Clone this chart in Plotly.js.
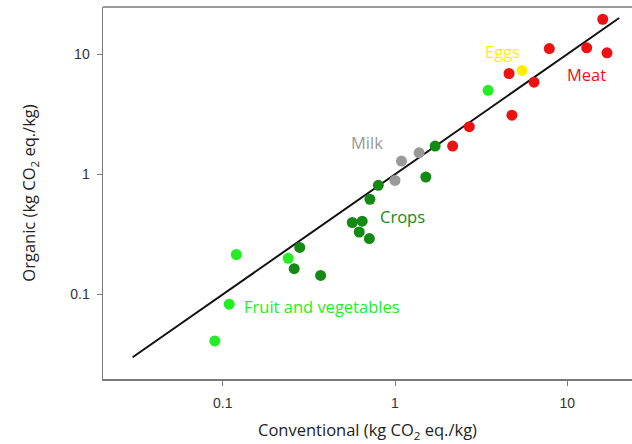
<!DOCTYPE html>
<html>
<head>
<meta charset="utf-8">
<script src="https://cdn.plot.ly/plotly-3.0.1.min.js"></script>
<style>
  html, body { margin: 0; padding: 0; background: #ffffff; }
  #chart { width: 632px; height: 444px; }
</style>
</head>
<body>
<div id="chart"></div>
<script>
// Carbon footprint per kg of product: conventional vs organic (kg CO2 eq./kg)
const fruitConv = [0.09, 0.109, 0.12, 0.24, 3.47];
const fruitOrg  = [0.041, 0.083, 0.215, 0.20, 5.0];

const cropsConv = [0.28, 0.26, 0.37, 0.565, 0.645, 0.62, 0.71, 0.715, 0.80, 1.51, 1.71];
const cropsOrg  = [0.246, 0.164, 0.144, 0.397, 0.407, 0.331, 0.292, 0.62, 0.81, 0.95, 1.72];

const milkConv = [1.0, 1.09, 1.38];
const milkOrg  = [0.89, 1.29, 1.51];

const meatConv = [2.16, 2.70, 4.77, 6.41, 4.59, 7.86, 12.96, 17.0, 16.06];
const meatOrg  = [1.72, 2.49, 3.11, 5.85, 6.91, 11.15, 11.3, 10.27, 19.54];

const eggsConv = [5.46];
const eggsOrg  = [7.32];

// 1:1 reference line
const parityX = [0.03, 20];
const parityY = [0.03, 20];

const tickValues = [0.1, 1, 10];
const tickLabels = ['0.1', '1', '10'];

const groupLabels = ['Milk', 'Crops', 'Fruit and vegetables', 'Eggs', 'Meat'];
const labelX = [0.688, 1.098, 0.377, 4.21, 12.96];
const labelY = [1.845, 0.448, 0.080, 10.6, 6.78];

const colors = {
  fruit: '#22ee22',
  crops: '#138a13',
  milk: '#999999',
  meat: '#ee1111',
  eggs: '#ffee00'
};
const labelColors = [colors.milk, colors.crops, colors.fruit, colors.eggs, colors.meat];

const textFont = '"Open Sans", Lato, sans-serif';

function dots(x, y, color) {
  return {
    x: x, y: y, type: 'scatter', mode: 'markers',
    marker: { color: color, size: 11, line: { width: 0 } },
    hoverinfo: 'skip', showlegend: false
  };
}

const traces = [
  {
    x: parityX, y: parityY, type: 'scatter', mode: 'lines',
    line: { color: '#111111', width: 2 }, hoverinfo: 'skip', showlegend: false
  },
  dots(fruitConv, fruitOrg, colors.fruit),
  dots(cropsConv, cropsOrg, colors.crops),
  dots(milkConv, milkOrg, colors.milk),
  dots(meatConv, meatOrg, colors.meat),
  dots(eggsConv, eggsOrg, colors.eggs)
];

const annotations = groupLabels.map((t, i) => ({
  text: t,
  x: Math.log10(labelX[i]), y: Math.log10(labelY[i]),
  xref: 'x', yref: 'y', showarrow: false,
  font: { family: textFont, size: 16.5, color: labelColors[i] }
}));

const axisCommon = {
  type: 'log',
  tickvals: tickValues, ticktext: tickLabels,
  showgrid: false, zeroline: false,
  showline: true, linecolor: '#7a7a7a', linewidth: 1.5,
  ticks: 'outside', ticklen: 5, tickwidth: 1, tickcolor: '#7a7a7a',
  tickfont: { family: '"Liberation Sans", Arial, sans-serif', size: 14, color: '#333333' }
};

const layout = {
  width: 632, height: 444,
  margin: { l: 103, r: 0, t: 7, b: 65 },
  paper_bgcolor: '#ffffff', plot_bgcolor: '#ffffff',
  xaxis: Object.assign({}, axisCommon, {
    range: [-1.6947, 1.3755],
    ticklabelstandoff: 6,
    title: {
      text: 'Conventional (kg CO<sub>2</sub> eq./kg)',
      font: { family: textFont, size: 16.5, color: '#222222' },
      standoff: 14
    }
  }),
  yaxis: Object.assign({}, axisCommon, {
    range: [-1.704, 1.393],
    ticklabelstandoff: 4,
    title: {
      text: 'Organic (kg CO<sub>2</sub> eq./kg)',
      font: { family: textFont, size: 16.5, color: '#222222' },
      standoff: 30
    }
  }),
  shapes: [{
    type: 'line', xref: 'paper', yref: 'paper',
    x0: 0, x1: 1, y0: 1, y1: 1,
    line: { color: '#7a7a7a', width: 1.5 }
  }],
  annotations: annotations,
  showlegend: false
};

Plotly.newPlot('chart', traces, layout, { displayModeBar: false, staticPlot: true });
</script>
</body>
</html>
